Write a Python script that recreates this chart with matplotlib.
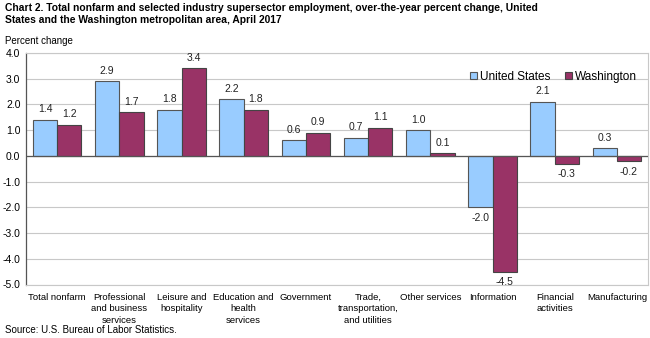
import numpy as np
import matplotlib.pyplot as plt

plt.rcParams['font.family'] = ['Liberation Sans', 'DejaVu Sans']

categories = ["Total nonfarm", "Professional\nand business\nservices", "Leisure and\nhospitality",
              "Education and\nhealth\nservices", "Government", "Trade,\ntransportation,\nand utilities",
              "Other services", "Information", "Financial\nactivities", "Manufacturing"]
us = [1.4, 2.9, 1.8, 2.2, 0.6, 0.7, 1.0, -2.0, 2.1, 0.3]
washington = [1.2, 1.7, 3.4, 1.8, 0.9, 1.1, 0.1, -4.5, -0.3, -0.2]
yticks = [4.0, 3.0, 2.0, 1.0, 0.0, -1.0, -2.0, -3.0, -4.0, -5.0]

fig = plt.figure(figsize=(6.5, 3.38), dpi=100)
ax = fig.add_axes([26/650, 1 - 284.5/338, 622/650, 231.5/338])

x = np.arange(len(categories))
w = 0.39
b1 = ax.bar(x - w/2, us, w, color="#99CCFF", edgecolor="#555555", linewidth=0.8, label="United States", zorder=3)
b2 = ax.bar(x + w/2, washington, w, color="#993366", edgecolor="#444444", linewidth=0.8, label="Washington", zorder=3)

for bars, vals in ((b1, us), (b2, washington)):
    for r, v in zip(bars, vals):
        cx = r.get_x() + r.get_width()/2
        if v >= 0:
            ax.annotate(f"{v:.1f}", (cx, v), xytext=(0, 4), textcoords="offset points",
                        ha="center", va="bottom", fontsize=7.5, color="#222222")
        else:
            ax.annotate(f"{v:.1f}", (cx, v), xytext=(0, -4), textcoords="offset points",
                        ha="center", va="top", fontsize=7.5, color="#222222")

ax.set_xlim(-0.5, len(categories) - 0.5)
ax.set_ylim(-5, 4)
ax.set_yticks(yticks)
ax.set_yticklabels([f"{t:.1f}" for t in yticks], fontsize=7.5)
ax.set_xticks(x)
ax.set_xticklabels(categories, fontsize=6.8, linespacing=1.35)
ax.tick_params(axis="x", length=0, pad=6)
ax.tick_params(axis="y", length=0, pad=4)
ax.grid(axis="y", color="#C8C8C8", linewidth=0.8, zorder=0)
ax.axhline(0, color="#555555", linewidth=0.9, zorder=4)
for s in ("top", "right", "bottom"):
    ax.spines[s].set_color("#C8C8C8")
    ax.spines[s].set_linewidth(0.8)
ax.spines["left"].set_color("#555555")
ax.spines["left"].set_linewidth(0.9)

ax.legend(loc="upper right", bbox_to_anchor=(1.0, 0.97), ncol=2, frameon=False, fontsize=8.5,
          handlelength=0.6, handleheight=0.6, handletextpad=0.3, columnspacing=1.2)

fig.text(5/650, 1 - 3/338, "Chart 2. Total nonfarm and selected industry supersector employment, over-the-year percent change, United\nStates and the Washington metropolitan area, April 2017",
         fontsize=7.4, fontweight="bold", va="top", ha="left", linespacing=1.3)
fig.text(5/650, 1 - 41/338, "Percent change", fontsize=7, va="center", ha="left")
fig.text(5/650, 1 - 330/338, "Source: U.S. Bureau of Labor Statistics.", fontsize=7, va="center", ha="left")

fig.savefig("out.png", dpi=100)
